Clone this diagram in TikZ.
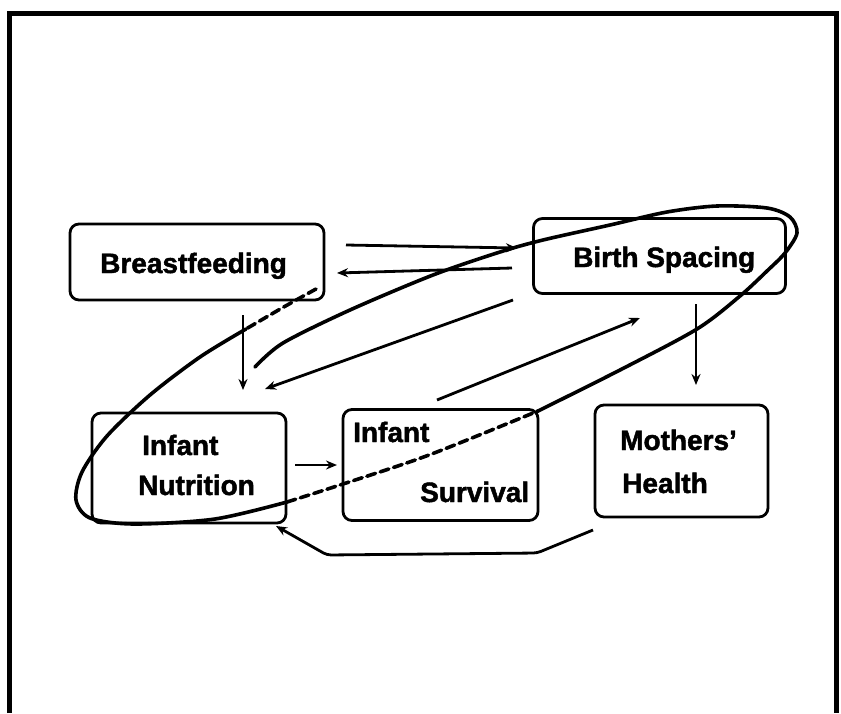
\documentclass[tikz,border=0pt]{standalone}
\usepackage{fontspec}
\setmainfont[BoldFeatures={FakeBold=1.6}]{Liberation Sans}
\usetikzlibrary{arrows.meta}
\begin{document}
\begin{tikzpicture}[x=1pt,y=-1pt,
  box/.style={draw=black, line width=2.8pt, rounded corners=9pt, inner sep=0pt},
  lbl/.style={anchor=base west, inner sep=0pt, font=\fontsize{28}{34}\selectfont\bfseries},
  conn/.style={line width=2.8pt, -{Stealth[length=11pt,width=9pt]}},
  loopline/.style={line width=3.6pt, line cap=round, line join=round},
  loopdash/.style={loopline, dash pattern=on 9pt off 5pt},
]
\useasboundingbox (0,0) rectangle (841,713);
\fill[white] (0,0) rectangle (841,713);
% frame
\draw[line width=5pt] (9.5,713) -- (9.5,13) -- (836,13) -- (836,713);

% boxes
\node[box, minimum width=254pt, minimum height=76pt] (bf) at (197,262) {};
\node[box, minimum width=252pt, minimum height=75pt] (bs) at (659.5,256) {};
\node[box, minimum width=194pt, minimum height=110pt] (inut) at (189,468) {};
\node[box, minimum width=195pt, minimum height=111pt] (isurv) at (440.5,465) {};
\node[box, minimum width=173pt, minimum height=112pt] (mh) at (681.5,461) {};

% labels
\node[lbl] (tbf) at (100,273) {Breastfeeding};
\node[lbl] (tbs) at (573,267) {Birth Spacing};
\node[lbl] (tin1) at (142,455) {Infant};
\node[lbl] (tin2) at (138,495) {Nutrition};
\node[lbl] (tis1) at (353,442) {Infant};
\node[lbl] (tis2) at (420,502) {Survival};
\node[lbl] (tmh1) at (620,450) {Mothers’};
\node[lbl] (tmh2) at (622,493) {Health};

% connector ends
\coordinate (a1s) at (346,245); \coordinate (a1e) at (517,248);
\coordinate (a2s) at (512,268); \coordinate (a2e) at (337,273);
\coordinate (a3s) at (243,315); \coordinate (a3e) at (243,390);
\coordinate (a4s) at (513,300); \coordinate (a4e) at (265,389);
\coordinate (a5s) at (437,400); \coordinate (a5e) at (640,318);
\coordinate (a6s) at (696,304); \coordinate (a6e) at (696,385);
\coordinate (a7s) at (295,465); \coordinate (a7e) at (337,465);
\coordinate (a8s) at (593,530); \coordinate (a8e) at (276,526);

\draw[conn] (a1s) -- (a1e);
\draw[conn] (a2s) -- (a2e);
\draw[conn] (a3s) -- (a3e);
\draw[conn] (a4s) -- (a4e);
\draw[conn] (a5s) -- (a5e);
\draw[conn] (a6s) -- (a6e);
\draw[conn] (a7s) -- (a7e);
\draw[conn, rounded corners=4pt] (a8s) -- (537,553) -- (327,555) -- (a8e);

% hand-drawn loop
\draw[loopdash] plot[smooth] coordinates {(316,289) (282,308) (246,329)};
\draw[loopline] plot[smooth] coordinates {(246,329) (200,357) (150,395) (107,436) (82,472) (76,500) (90,518) (134,524) (215,519) (287,502)};
\draw[loopdash] plot[smooth] coordinates {(287,502) (343,484) (429,455) (538,411)};
\draw[loopline] plot[smooth] coordinates {(538,411) (620,370) (697,329) (740,296) (767,271) (785,253) (797,233) (790,217) (767,208) (717,206) (667,212) (610,225) (543,240) (500,252) (433,275) (350,310) (283,343) (255,367)};
\end{tikzpicture}
\end{document}
